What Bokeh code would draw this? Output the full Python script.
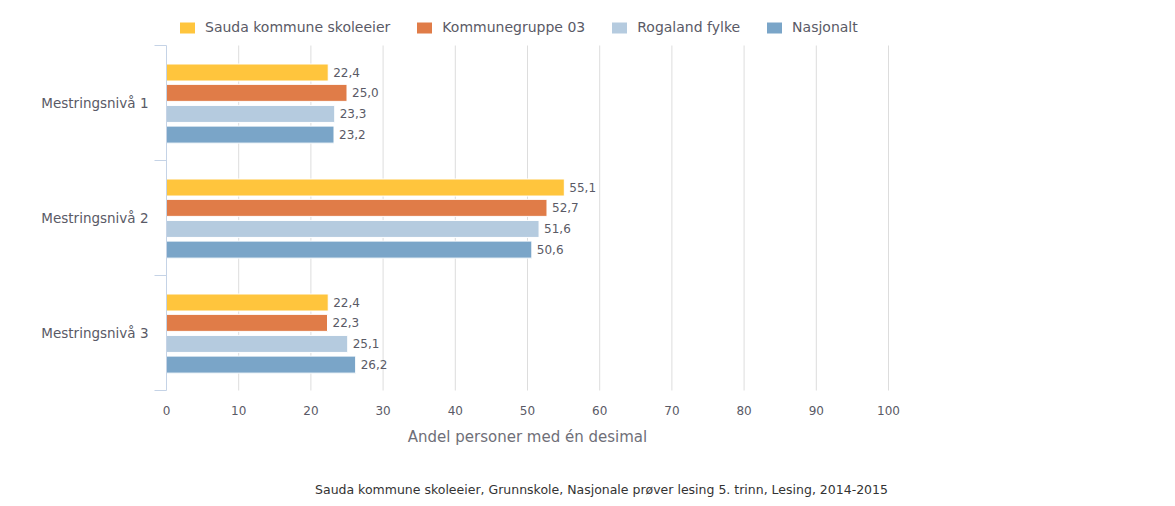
from bokeh.plotting import figure
from bokeh.models import (ColumnDataSource, FixedTicker, Legend, LegendItem, Label,
                          Range1d)
from bokeh.embed import file_html
from bokeh.resources import INLINE
from bokeh.core.properties import value

categories = ["Mestringsnivå 1", "Mestringsnivå 2", "Mestringsnivå 3"]
series_names = ["Sauda kommune skoleeier", "Kommunegruppe 03", "Rogaland fylke", "Nasjonalt"]
sauda = [22.4, 55.1, 22.4]
kommunegruppe = [25.0, 52.7, 22.3]
rogaland = [23.3, 51.6, 25.1]
nasjonalt = [23.2, 50.6, 26.2]
x_ticks = [0, 10, 20, 30, 40, 50, 60, 70, 80, 90, 100]
x_label = "Andel personer med én desimal"
footer = "Sauda kommune skoleeier, Grunnskole, Nasjonale prøver lesing 5. trinn, Lesing, 2014-2015"

series = [sauda, kommunegruppe, rogaland, nasjonalt]
colors = ["#FFC53D", "#E07C48", "#B5CBDF", "#7AA5C8"]
offsets = [0.265, 0.088, -0.095, -0.275]
FONT = "DejaVu Sans"
TXT = "#5a5a66"

n = len(categories)
BAND = 115.0   # px per category band
PXU = 7.22     # px per value unit
PAD_L = 140    # px of frame left of value 0 (room for category labels)
PAD_R = 20     # px of frame right of value 100
p = figure(frame_width=722 + PAD_L + PAD_R, frame_height=506, output_backend="svg",
           toolbar_location=None, x_axis_location=None,
           x_range=Range1d(-PAD_L / PXU, 100 + PAD_R / PXU),
           y_range=Range1d(-116 / BAND, n + 45 / BAND),
           min_border_left=166 - PAD_L, min_border_right=279 - PAD_R,
           min_border_top=0, min_border_bottom=0)
p.outline_line_color = None
p.background_fill_color = "white"
p.border_fill_color = "white"
p.grid.visible = False

centers = [n - 0.5 - i for i in range(n)]

# vertical grid lines over the category area
p.segment(x0=x_ticks[1:], x1=x_ticks[1:], y0=[0] * (len(x_ticks) - 1),
          y1=[n] * (len(x_ticks) - 1), line_color="#dddddd", line_width=1)

items = []
for name, vals, col, off in zip(series_names, series, colors, offsets):
    src = ColumnDataSource(dict(
        y=[c + off for c in centers],
        v=vals,
        lab=[("%.1f" % v).replace(".", ",") for v in vals],
    ))
    r = p.hbar(y="y", right="v", left=0, height=0.148, source=src,
               fill_color=col, line_color="white", line_width=1)
    p.text(x="v", y="y", text="lab", source=src, x_offset=5,
           text_font=value(FONT), text_font_size="12px", text_color=TXT,
           text_baseline="middle", text_align="left")
    items.append(LegendItem(label=name, renderers=[r]))

# x tick labels (value axis)
p.text(x=x_ticks, y=[0] * len(x_ticks), text=[str(t) for t in x_ticks], y_offset=20,
       text_font=value(FONT), text_font_size="12px", text_color=TXT,
       text_align="center", text_baseline="middle")
p.add_layout(Label(x=361 + PAD_L, y=70, x_units="screen", y_units="screen", text=x_label,
                   text_align="center", text_baseline="middle", text_font=FONT,
                   text_font_size="15px", text_color="#6f6f78"))

# category labels left of the axis
p.text(x=[0] * n, y=centers, text=categories, x_offset=-18,
       text_font=value(FONT), text_font_size="13.5px", text_color=TXT,
       text_align="right", text_baseline="middle")

# y axis line at value 0, tick marks at band edges
p.yaxis.fixed_location = 0
p.yaxis.bounds = (0, n)
p.yaxis.ticker = FixedTicker(ticks=[], minor_ticks=list(range(n + 1)))
p.yaxis.axis_line_color = "#c5d3e6"
p.yaxis.major_tick_line_color = None
p.yaxis.major_tick_out = 0
p.yaxis.major_tick_in = 0
p.yaxis.minor_tick_line_color = "#c5d3e6"
p.yaxis.minor_tick_out = 12
p.yaxis.minor_tick_in = 0
p.yaxis.major_label_text_color = None

legend = Legend(items=items, orientation="horizontal", location=(11 + PAD_L, 471),
                glyph_width=20, glyph_height=15, label_standoff=8, spacing=24,
                padding=0, margin=0, border_line_color=None, background_fill_alpha=0,
                label_text_font=FONT, label_text_font_size="14px", label_text_color=TXT)
p.add_layout(legend, "center")

p.add_layout(Label(x=435 + PAD_L, y=17, x_units="screen", y_units="screen", text=footer,
                   text_align="center", text_baseline="middle", text_font=FONT,
                   text_font_size="12.5px", text_color="#333333"))

open("out.html", "w").write(file_html(p, INLINE))
